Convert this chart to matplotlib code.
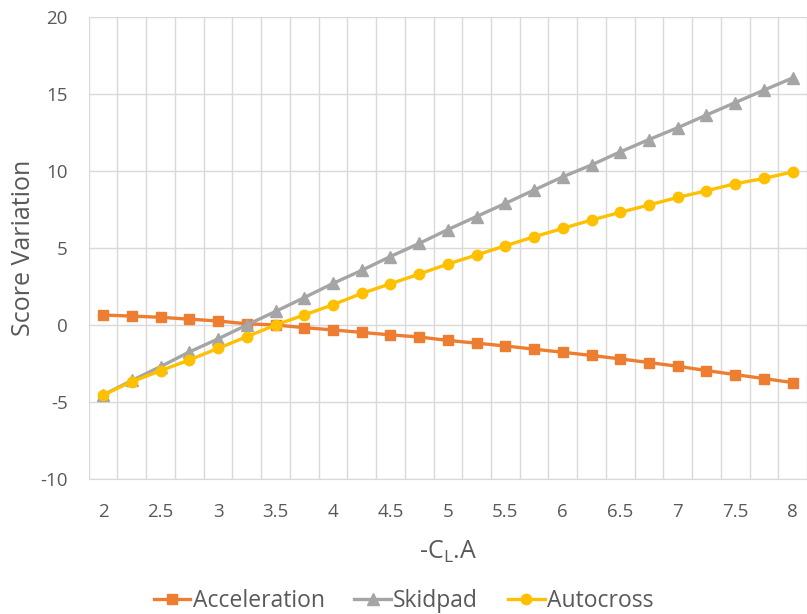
import numpy as np
import matplotlib
matplotlib.use("Agg")
import matplotlib.pyplot as plt

# -------------------------
# Data
# -------------------------

cla = [2, 2.25, 2.5, 2.75, 3, 3.25, 3.5, 3.75, 4, 4.25, 4.5, 4.75, 5,
       5.25, 5.5, 5.75, 6, 6.25, 6.5, 6.75, 7, 7.25, 7.5, 7.75, 8]

acceleration = [0.65, 0.58, 0.5, 0.38, 0.26, 0.08, 0.0, -0.17, -0.32, -0.48,
                -0.64, -0.78, -1.0, -1.18, -1.36, -1.57, -1.77, -1.98, -2.2,
                -2.44, -2.68, -2.96, -3.22, -3.48, -3.74]

skidpad = [-4.55, -3.6, -2.7, -1.75, -0.9, 0.0, 0.88, 1.78, 2.7, 3.55, 4.45,
           5.3, 6.2, 7.05, 7.9, 8.77, 9.63, 10.4, 11.25, 12.05, 12.82, 13.64,
           14.45, 15.26, 16.05]

autocross = [-4.55, -3.68, -2.97, -2.27, -1.52, -0.76, 0.0, 0.65, 1.32, 2.05,
             2.68, 3.31, 3.96, 4.55, 5.15, 5.73, 6.28, 6.82, 7.32, 7.8, 8.29,
             8.72, 9.18, 9.52, 9.95]

x_ticks = [2, 2.5, 3, 3.5, 4, 4.5, 5, 5.5, 6, 6.5, 7, 7.5, 8]
y_ticks = [-10, -5, 0, 5, 10, 15, 20]

# -------------------------
# Style
# -------------------------

plt.rcParams["font.family"] = ["Open Sans", "DejaVu Sans"]
plt.rcParams["mathtext.fontset"] = "custom"
plt.rcParams["mathtext.rm"] = "Open Sans"
plt.rcParams["axes.unicode_minus"] = False

text_col = "#595959"
grid_col = "#D9D9D9"

fig = plt.figure(figsize=(8.07, 6.14), dpi=100)
ax = fig.add_axes([0.110, 0.220, 0.890, 0.752])

ax.plot(cla, acceleration, color="#ED7D31", lw=2.4, marker="s", ms=7.5,
        label="Acceleration", zorder=3)
ax.plot(cla, skidpad, color="#A5A5A5", lw=2.4, marker="^", ms=8,
        label="Skidpad", zorder=3)
ax.plot(cla, autocross, color="#FFC000", lw=2.4, marker="o", ms=7.5,
        label="Autocross", zorder=4)

# -------------------------
# Axes
# -------------------------

ax.set_ylim(-10, 20)
ax.set_xlim(1.875, 8.089)
ax.set_yticks(y_ticks)
ax.set_xticks(x_ticks)
ax.set_xticklabels([f"{v:g}" for v in x_ticks])
ax.set_xticks(np.arange(1.875, 8.2, 0.25), minor=True)

ax.grid(axis="y", which="major", color=grid_col, lw=1)
ax.grid(axis="x", which="minor", color=grid_col, lw=1)
ax.set_axisbelow(True)

for s in ["top", "right", "left"]:
    ax.spines[s].set_visible(False)
ax.spines["bottom"].set_color(grid_col)

ax.tick_params(axis="both", which="both", length=0, colors=text_col,
               labelsize=13.5)
ax.tick_params(axis="x", pad=17)
ax.tick_params(axis="y", pad=15)

ax.set_ylabel("Score Variation", fontsize=18, color=text_col, labelpad=3)
ax.set_xlabel(r"-C$_{\mathregular{L}}$.A", fontsize=18, color=text_col,
              labelpad=13)

fig.legend(loc="lower center", bbox_to_anchor=(0.5, -0.032), ncol=3,
           frameon=False, fontsize=16.5, handlelength=1.6, handletextpad=0.1,
           columnspacing=1.3, labelcolor=text_col)

plt.savefig("out.png", dpi=100)
